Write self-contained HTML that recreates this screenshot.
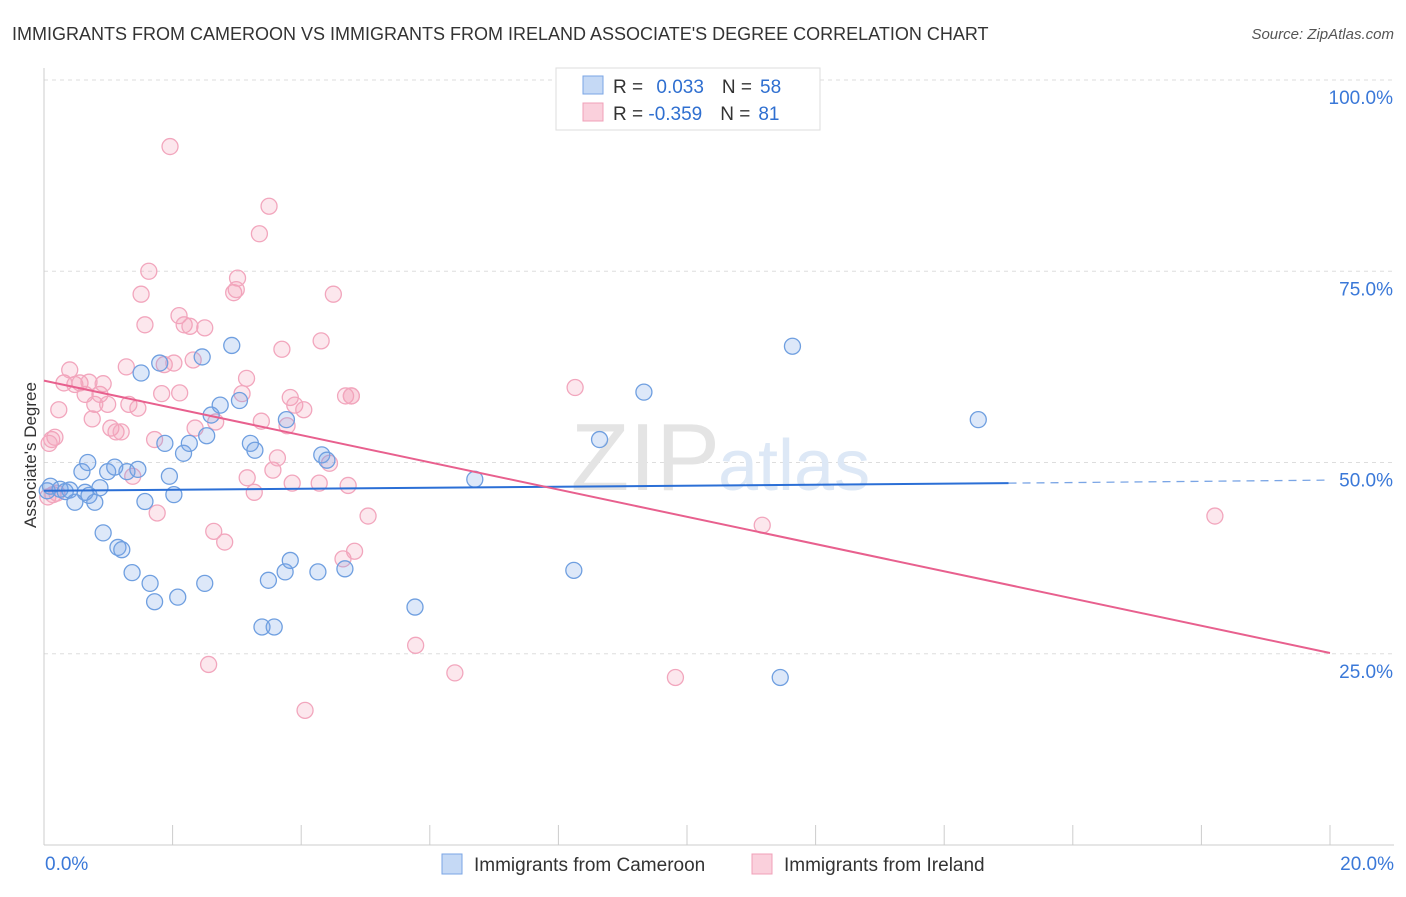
<!DOCTYPE html>
<html><head><meta charset="utf-8"><style>
body{margin:0;background:#fff;font-family:"Liberation Sans",sans-serif;}
svg text{font-family:"Liberation Sans",sans-serif;}
</style></head><body>
<svg width="1406" height="892" viewBox="0 0 1406 892">
<text x="12" y="40" font-size="18" fill="#333">IMMIGRANTS FROM CAMEROON VS IMMIGRANTS FROM IRELAND ASSOCIATE'S DEGREE CORRELATION CHART</text>
<text x="1394" y="39" font-size="15" fill="#555" font-style="italic" text-anchor="end">Source: ZipAtlas.com</text>
<g id="grid"></g>
<line x1="44" y1="68" x2="44" y2="845" stroke="#ccc"/>
<line x1="44" y1="845" x2="1394" y2="845" stroke="#ccc"/>
<text x="720" y="490" font-size="96" fill="#e4e4e4" text-anchor="end" font-family="Liberation Serif">ZIP</text>
<text x="718" y="490" font-size="72" fill="#dde8f6">atlas</text>
<text x="36" y="455" font-size="17" fill="#333" text-anchor="middle" transform="rotate(-90 36 455)">Associate's Degree</text>
<g id="ticks"></g>
<g id="pts"></g>
<g id="lines"></g>
<g>
<rect x="556" y="68" width="264" height="62" fill="#fff" stroke="#ddd"/>
<rect x="583" y="76" width="20" height="18" fill="#c5d9f5" stroke="#7aa5e5"/>
<rect x="583" y="103" width="20" height="18" fill="#fad0dc" stroke="#f0a0b8"/>
<text x="613" y="93" font-size="19" fill="#333">R = <tspan fill="#2f6fd0" dx="8">0.033</tspan><tspan fill="#333" dx="18">N =</tspan><tspan fill="#2f6fd0" dx="8">58</tspan></text>
<text x="613" y="120" font-size="19" fill="#333">R = <tspan fill="#2f6fd0">-0.359</tspan><tspan fill="#333" dx="18">N =</tspan><tspan fill="#2f6fd0" dx="8">81</tspan></text>
</g>
<g>
<rect x="442" y="854" width="20" height="20" fill="#c5d9f5" stroke="#7aa5e5"/>
<text x="474" y="871" font-size="19" fill="#333">Immigrants from Cameroon</text>
<rect x="752" y="854" width="20" height="20" fill="#fad0dc" stroke="#f0a0b8"/>
<text x="784" y="871" font-size="19" fill="#333">Immigrants from Ireland</text>
</g>
</svg>
<script>
const yTicks=[25,50,75,100];
const yTickLabels=["25.0%","50.0%","75.0%","100.0%"];
const xMin=0,xMax=20;
const blueX=[0.05,0.1,0.25,0.33,0.4,0.48,0.59,0.64,0.7,0.68,0.79,0.87,0.92,0.99,1.1,1.15,1.21,1.29,1.37,1.46,1.51,1.57,1.65,1.72,1.8,1.88,1.95,2.02,2.08,2.17,2.26,2.46,2.5,2.53,2.6,2.74,2.92,3.04,3.21,3.28,3.39,3.49,3.58,3.75,3.77,3.83,4.26,4.32,4.4,4.68,5.77,6.7,8.24,8.64,9.33,11.45,11.64,14.53];
const blueY=[46.3,46.9,46.5,46.2,46.4,44.8,48.8,46.1,45.7,50.0,44.8,46.7,40.8,48.8,49.4,38.9,38.6,48.8,35.6,49.1,61.7,44.9,34.2,31.8,63.0,52.5,48.2,45.8,32.4,51.2,52.5,63.8,34.2,53.5,56.2,57.5,65.3,58.1,52.5,51.6,28.5,34.6,28.5,35.7,55.6,37.2,35.7,51.0,50.3,36.1,31.1,47.8,35.9,53.0,59.2,21.9,65.2,55.6];
const pinkX=[0.06,0.12,0.17,0.23,0.31,0.4,0.48,0.56,0.64,0.7,0.75,0.79,0.87,0.92,0.99,1.04,1.12,1.2,1.28,1.32,1.38,1.46,1.51,1.57,1.63,1.72,1.76,1.83,1.87,1.96,2.02,2.1,2.11,2.18,2.27,2.32,2.35,2.5,2.56,2.64,2.81,2.67,2.95,3.01,2.99,3.08,3.15,3.16,3.27,3.35,3.38,3.5,3.56,3.63,3.7,3.78,3.86,3.83,3.9,4.04,4.06,4.28,4.31,4.44,4.5,4.65,4.69,4.73,4.78,4.83,4.78,5.04,5.78,6.39,8.26,9.82,11.17,18.21,0.08,0.14,0.2];
const pinkY=[45.5,53.0,53.3,56.9,60.4,62.1,60.2,60.4,58.9,60.5,55.7,57.6,58.9,60.3,57.6,54.5,54.0,54.0,62.5,57.6,48.2,57.1,72.0,68.0,75.0,53.0,43.4,59.0,62.8,91.3,63.0,69.2,59.1,68.0,67.8,63.4,54.5,67.6,23.6,41.0,39.6,55.3,72.2,74.1,72.6,59.0,61.0,48.0,46.1,79.9,55.4,83.5,49.0,50.6,64.8,54.8,47.3,58.5,57.5,56.9,17.6,47.3,65.9,49.9,72.0,37.4,58.7,47.0,58.7,38.4,58.7,43.0,26.1,22.5,59.8,21.9,41.8,43.0,52.5,45.8,46.0];
const blueLine=[46.3,47.3,47.7]; // at x=0, x=15, x=20
const pinkLine=[60.7,25.1]; // at x=0, x=20
const X=v=>44+(v-xMin)/(xMax-xMin)*1286;
const Y=v=>845-v*7.65;
const NS="http://www.w3.org/2000/svg";
function mk(t,a,p){const e=document.createElementNS(NS,t);for(const k in a)e.setAttribute(k,a[k]);p.appendChild(e);return e;}
const grid=document.getElementById('grid'),ticks=document.getElementById('ticks'),pts=document.getElementById('pts'),lines=document.getElementById('lines');
yTicks.forEach((t,i)=>{
 const l=mk('line',{x1:44,x2:1394,y1:Y(t),y2:Y(t),stroke:'#ddd','stroke-dasharray':'4,4'},grid);
 
 
 const tx=mk('text',{x:1393,y:Y(t)+24,'font-size':19,fill:'#3a78d8','text-anchor':'end'},ticks);
 tx.textContent=yTickLabels[i];
 
 
});
for(let i=0;i<=10;i++){
 const l=mk('line',{x1:X(i*2),x2:X(i*2),y1:825,y2:845,stroke:'#ccc'},ticks);
 
 
}
const x0=mk('text',{x:45,y:870,'font-size':19,fill:'#3a78d8'},ticks);x0.textContent='0.0%';


const x1=mk('text',{x:1394,y:870,'font-size':19,fill:'#3a78d8','text-anchor':'end'},ticks);x1.textContent='20.0%';


pinkX.forEach((x,i)=>{
 const c=mk('circle',{cx:X(x),cy:Y(pinkY[i]),r:8,fill:'rgba(244,160,185,0.25)',stroke:'#f2a6bd','stroke-width':1.3},pts);
 
 
});
blueX.forEach((x,i)=>{
 const c=mk('circle',{cx:X(x),cy:Y(blueY[i]),r:8,fill:'rgba(120,165,230,0.25)',stroke:'#6f9fe0','stroke-width':1.3},pts);
 
 
});
const bl=mk('line',{x1:X(0),y1:Y(blueLine[0]),x2:X(15),y2:Y(blueLine[1]),stroke:'#2b6fd6','stroke-width':2},lines);


const bd=mk('line',{x1:X(15),y1:Y(blueLine[1]),x2:X(20),y2:Y(blueLine[2]),stroke:'#7aa5e5','stroke-width':1.3,'stroke-dasharray':'8,6'},lines);


const pl=mk('line',{x1:X(0),y1:Y(pinkLine[0]),x2:X(20),y2:Y(pinkLine[1]),stroke:'#e8608e','stroke-width':2},lines);


</script>
</body></html>
